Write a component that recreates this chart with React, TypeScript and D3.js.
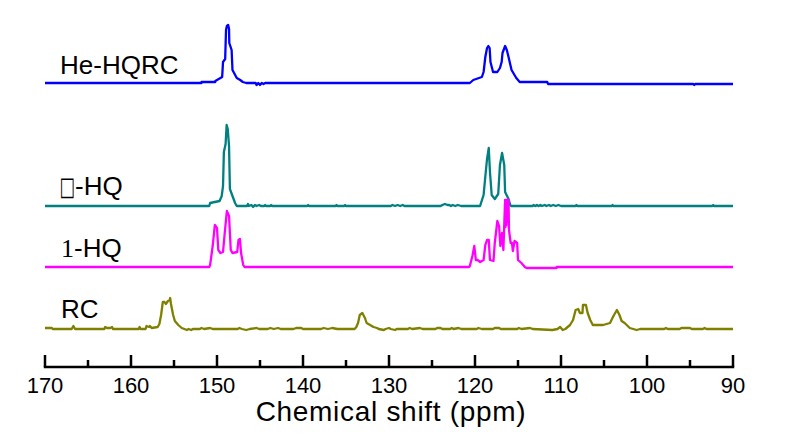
import React from "react";
import * as d3 from "d3";

// ---- Data (ppm, relative intensity) ----
const heHQRC: [number, number][] = [
  [170, 1], [151.8, 1], [151.8, 2], [150.2, 2], [150.2, 3], [149.4, 7], [149.3, 22], [149.05, 25],
  [148.95, 54], [148.85, 58], [148.7, 59], [148.6, 55], [148.57, 41], [148.3, 34], [148.2, 14],
  [147.7, 6], [147.3, 4], [147.0, 2], [146.6, 1], [145.5, 1], [145.4, -1], [145.2, 1], [145.0, -1],
  [144.8, 1], [144.6, 0], [144.4, 1], [121.5, 1], [120.6, 1], [120.2, 4], [119.2, 7], [119.0, 12],
  [118.8, 27], [118.6, 36], [118.45, 38], [118.3, 36], [118.2, 22], [117.9, 12], [117.4, 12],
  [117.1, 16], [116.9, 22], [116.8, 31], [116.5, 38], [116.3, 34], [116.1, 27], [115.75, 14],
  [115.2, 6], [114.8, 2], [111.6, 2], [111.5, 0], [94.6, 0], [94.5, -1], [94.4, 0], [90, 0],
];

const boxHQ: [number, number][] = [
  [170, 0], [150.9, 0], [150.8, 3], [149.7, 5], [149.45, 10], [149.3, 20], [149.2, 54], [149.0, 62],
  [148.88, 81], [148.75, 77], [148.6, 60], [148.5, 17], [148.2, 10], [147.9, 3], [147.7, 0],
  [146.5, 0], [146.4, 2], [146.3, 0], [146.0, 1], [145.8, -1], [145.6, 1], [145.4, 0], [145.1, 1],
  [144.9, 0], [144.5, 0], [144.4, 1], [144.3, 0], [143.8, 0], [143.7, 1], [143.6, 0],
  [139.5, 0], [139.4, 1], [139.3, 0], [136.2, 0], [136.1, 1], [136.0, 0], [135.2, 0], [135.1, 1],
  [135.0, 0], [129.8, 0], [129.6, 1], [129.3, 0], [129.0, 1], [128.7, 0], [128.4, 1], [128.2, 0],
  [124.0, 0], [123.8, 1], [123.5, 2], [123.2, 1], [123.0, 1], [122.8, 0], [122.6, 1], [122.3, 0],
  [122.0, 1], [121.6, 0], [119.4, 0], [119.3, 3], [119.0, 11], [118.75, 34], [118.6, 47],
  [118.4, 58], [118.26, 34], [118.06, 11], [117.7, 7], [117.3, 12], [117.1, 41], [116.85, 53],
  [116.6, 41], [116.5, 14], [116.1, 7], [115.9, 1], [115.8, 0], [113.3, 0], [113.2, 1], [113.0, 0],
  [112.8, 1], [112.6, 0], [112.4, 1], [112.2, 0], [111.9, 1], [111.7, 0], [111.4, 1], [111.2, 0],
  [110.9, 1], [110.6, 0], [110.3, 1], [110.0, 0], [108.3, 0], [108.2, 1], [108.1, 0], [104.1, 0],
  [104.0, 1], [103.9, 0], [92.4, 0], [92.3, 1], [92.2, 0], [90, 0],
];

const oneHQ: [number, number][] = [
  [170, 0], [150.9, 0], [150.8, 2], [150.5, 21], [150.25, 42], [150.0, 39], [149.85, 17], [149.6, 14],
  [149.3, 15], [149.1, 34], [148.85, 56], [148.6, 51], [148.4, 17], [148.2, 14], [147.65, 15],
  [147.5, 27], [147.33, 28], [147.2, 14], [146.95, 2], [146.8, 0], [120.7, 0], [120.6, 1],
  [120.3, 11], [120.08, 21], [119.9, 7], [119.7, 7], [119.4, 5], [119.0, 7], [118.8, 22],
  [118.6, 27], [118.4, 27], [118.26, 7], [117.85, 6], [117.7, 24], [117.4, 46], [117.2, 41],
  [117.05, 21], [116.85, 34], [116.7, 17], [116.5, 67], [116.45, 40], [116.4, 67], [116.35, 42],
  [116.3, 67], [116.25, 45], [116.2, 67], [116.15, 48], [116.1, 67], [116.05, 37], [115.85, 24],
  [115.7, 24], [115.6, 16], [115.4, 26], [115.1, 24], [115.0, 7], [114.6, 4], [114.2, 0],
  [114.0, -1], [110.5, -1], [110.5, 0], [90, 0],
];

const rc: [number, number][] = [
  [170, 1], [169.2, 1], [169.1, 0], [166.9, 0], [166.7, 3], [166.5, 0], [163.1, 0], [163.0, 2],
  [162.8, 1], [162.4, 1], [162.2, 2], [162.1, 0], [159.1, 0], [159.0, 2], [158.9, 0], [158.3, 0],
  [158.2, 3], [157.9, 2], [157.8, 3], [157.6, 1], [156.9, 2], [156.7, 5], [156.5, 14], [156.3, 27],
  [156.1, 27], [155.95, 25], [155.7, 28], [155.5, 29], [155.45, 31], [155.35, 25], [155.1, 14],
  [154.9, 8], [154.5, 4], [154.1, 1], [153.8, 0], [153.5, -1], [153.3, 0], [153.0, -1], [152.8, 0],
  [152.0, 0], [151.8, 1], [151.5, 0], [150.8, 1], [150.5, 0], [147.6, 0], [147.4, 1], [147.1, 0],
  [146.6, -1], [146.2, 0], [145.4, 1], [145.1, 0], [144.1, 0], [143.8, 1], [143.4, 0], [142.9, 1],
  [142.6, 0], [141.1, 0], [140.8, 1], [140.2, 1], [140.0, 0], [137.9, 0], [137.6, 1], [137.1, 0],
  [136.6, 1], [136.0, 0], [134.0, 0], [133.8, 2], [133.6, 6], [133.4, 14], [133.1, 16], [132.8, 11],
  [132.6, 6], [132.2, 4], [131.8, 2], [131.4, 1], [131.2, 0], [130.6, -1], [130.4, 0], [130.0, 1],
  [129.8, 0], [129.3, -1], [129.1, 0], [127.8, 0], [127.6, 1], [127.3, 0], [126.4, 1], [126.1, 0],
  [124.6, 0], [124.4, 1], [124.0, 1], [123.8, 0], [122.9, 0], [122.7, 1], [122.5, 0], [121.9, 1],
  [121.6, 0], [119.8, 0], [119.6, 1], [119.2, 0], [117.9, 0], [117.7, 1], [117.2, 1], [117.0, 0],
  [115.1, 0], [114.9, 1], [114.6, 0], [113.6, 1], [113.3, 0], [111.0, -1], [110.4, 0], [110.1, 2],
  [109.8, -1], [109.5, 0], [108.95, 4], [108.6, 9], [108.3, 19], [108.0, 20], [107.8, 16],
  [107.5, 16], [107.45, 24], [107.1, 24], [106.9, 16], [106.6, 9], [106.3, 4], [105.1, 4],
  [104.3, 6], [103.9, 13], [103.5, 19], [103.2, 14], [102.95, 8], [102.6, 6], [102.0, 1],
  [101.2, -1], [100.8, 0], [98.0, 0], [97.8, 1], [97.6, 0], [96.2, 0], [96.0, 1], [95.0, 1],
  [94.8, 0], [93.5, 0], [93.3, 1], [93.1, 0], [90, 0],
];

const seriesNames = ["He-HQRC", "□-HQ", "1-HQ", "RC"];
const seriesData = [heHQRC, boxHQ, oneHQ, rc];
const seriesOffsets = [261, 139, 78, 16];
const seriesColors = ["#0000ff", "#008080", "#ff00ff", "#808000"];

const majorTicks = [170, 160, 150, 140, 130, 120, 110, 100, 90];
const minorTicks = [165, 155, 145, 135, 125, 115, 105, 95];
const xTitle = "Chemical shift (ppm)";

const W = 790;
const H = 447;
const FONT = "'Liberation Sans', Arial, Helvetica, sans-serif";

export default function App() {
  const x = d3.scaleLinear().domain([170, 90]).range([45, 733]);
  const y = d3.scaleLinear().domain([0, 320]).range([345, 25]);
  const axisY = 367;

  const labelPos = [
    { x: 60, y: 74 },
    { x: 59.5, y: 195 },
    { x: 61, y: 257 },
    { x: 61, y: 318 },
  ];
  const boxLabel = seriesNames[1];

  return (
    <svg
      width={W}
      height={H}
      style={{ position: "absolute", left: 0, top: 0, background: "#fff" }}
      fontFamily={FONT}
    >
      <rect x={0} y={0} width={W} height={H} fill="#fff" />
      {seriesData.map((data, i) => {
        const line = d3
          .line<[number, number]>()
          .x((d) => x(d[0]))
          .y((d) => y(d[1] + seriesOffsets[i]));
        return (
          <path
            key={seriesNames[i]}
            d={line(data) || ""}
            fill="none"
            stroke={seriesColors[i]}
            strokeWidth={2.3}
            strokeLinejoin="round"
          />
        );
      })}

      {/* labels */}
      <text x={labelPos[0].x} y={labelPos[0].y} fontSize={26} fill="#000">
        {seriesNames[0]}
      </text>
      <text
        transform={`translate(${labelPos[1].x},${labelPos[1].y}) scale(0.63,1)`}
        fontFamily="'DejaVu Sans'"
        fontSize={26}
        fill="#000"
      >
        {boxLabel.slice(0, 1)}
      </text>
      <text x={labelPos[1].x + 15.5} y={labelPos[1].y} fontSize={26} fill="#000">
        {boxLabel.slice(1)}
      </text>
      <text x={labelPos[2].x} y={labelPos[2].y} fontSize={26} fill="#000">
        <tspan fontFamily="'Liberation Serif', 'Times New Roman', serif">1</tspan>
        <tspan>-HQ</tspan>
      </text>
      <text x={labelPos[3].x} y={labelPos[3].y} fontSize={26} fill="#000">
        {seriesNames[3]}
      </text>

      {/* axis */}
      <line x1={x(170) - 1.2} x2={x(90) + 1.2} y1={axisY} y2={axisY} stroke="#000" strokeWidth={2.5} />
      {majorTicks.map((t) => (
        <g key={"M" + t}>
          <line x1={x(t)} x2={x(t)} y1={axisY} y2={axisY - 12} stroke="#000" strokeWidth={2.5} />
          <text x={x(t)} y={393} fontSize={22} textAnchor="middle" fill="#000">
            {t}
          </text>
        </g>
      ))}
      {minorTicks.map((t) => (
        <line key={"m" + t} x1={x(t)} x2={x(t)} y1={axisY} y2={axisY - 7} stroke="#000" strokeWidth={2.5} />
      ))}
      <text x={391} y={421} fontSize={28} letterSpacing={0.7} textAnchor="middle" fill="#000">
        {xTitle}
      </text>
    </svg>
  );
}
